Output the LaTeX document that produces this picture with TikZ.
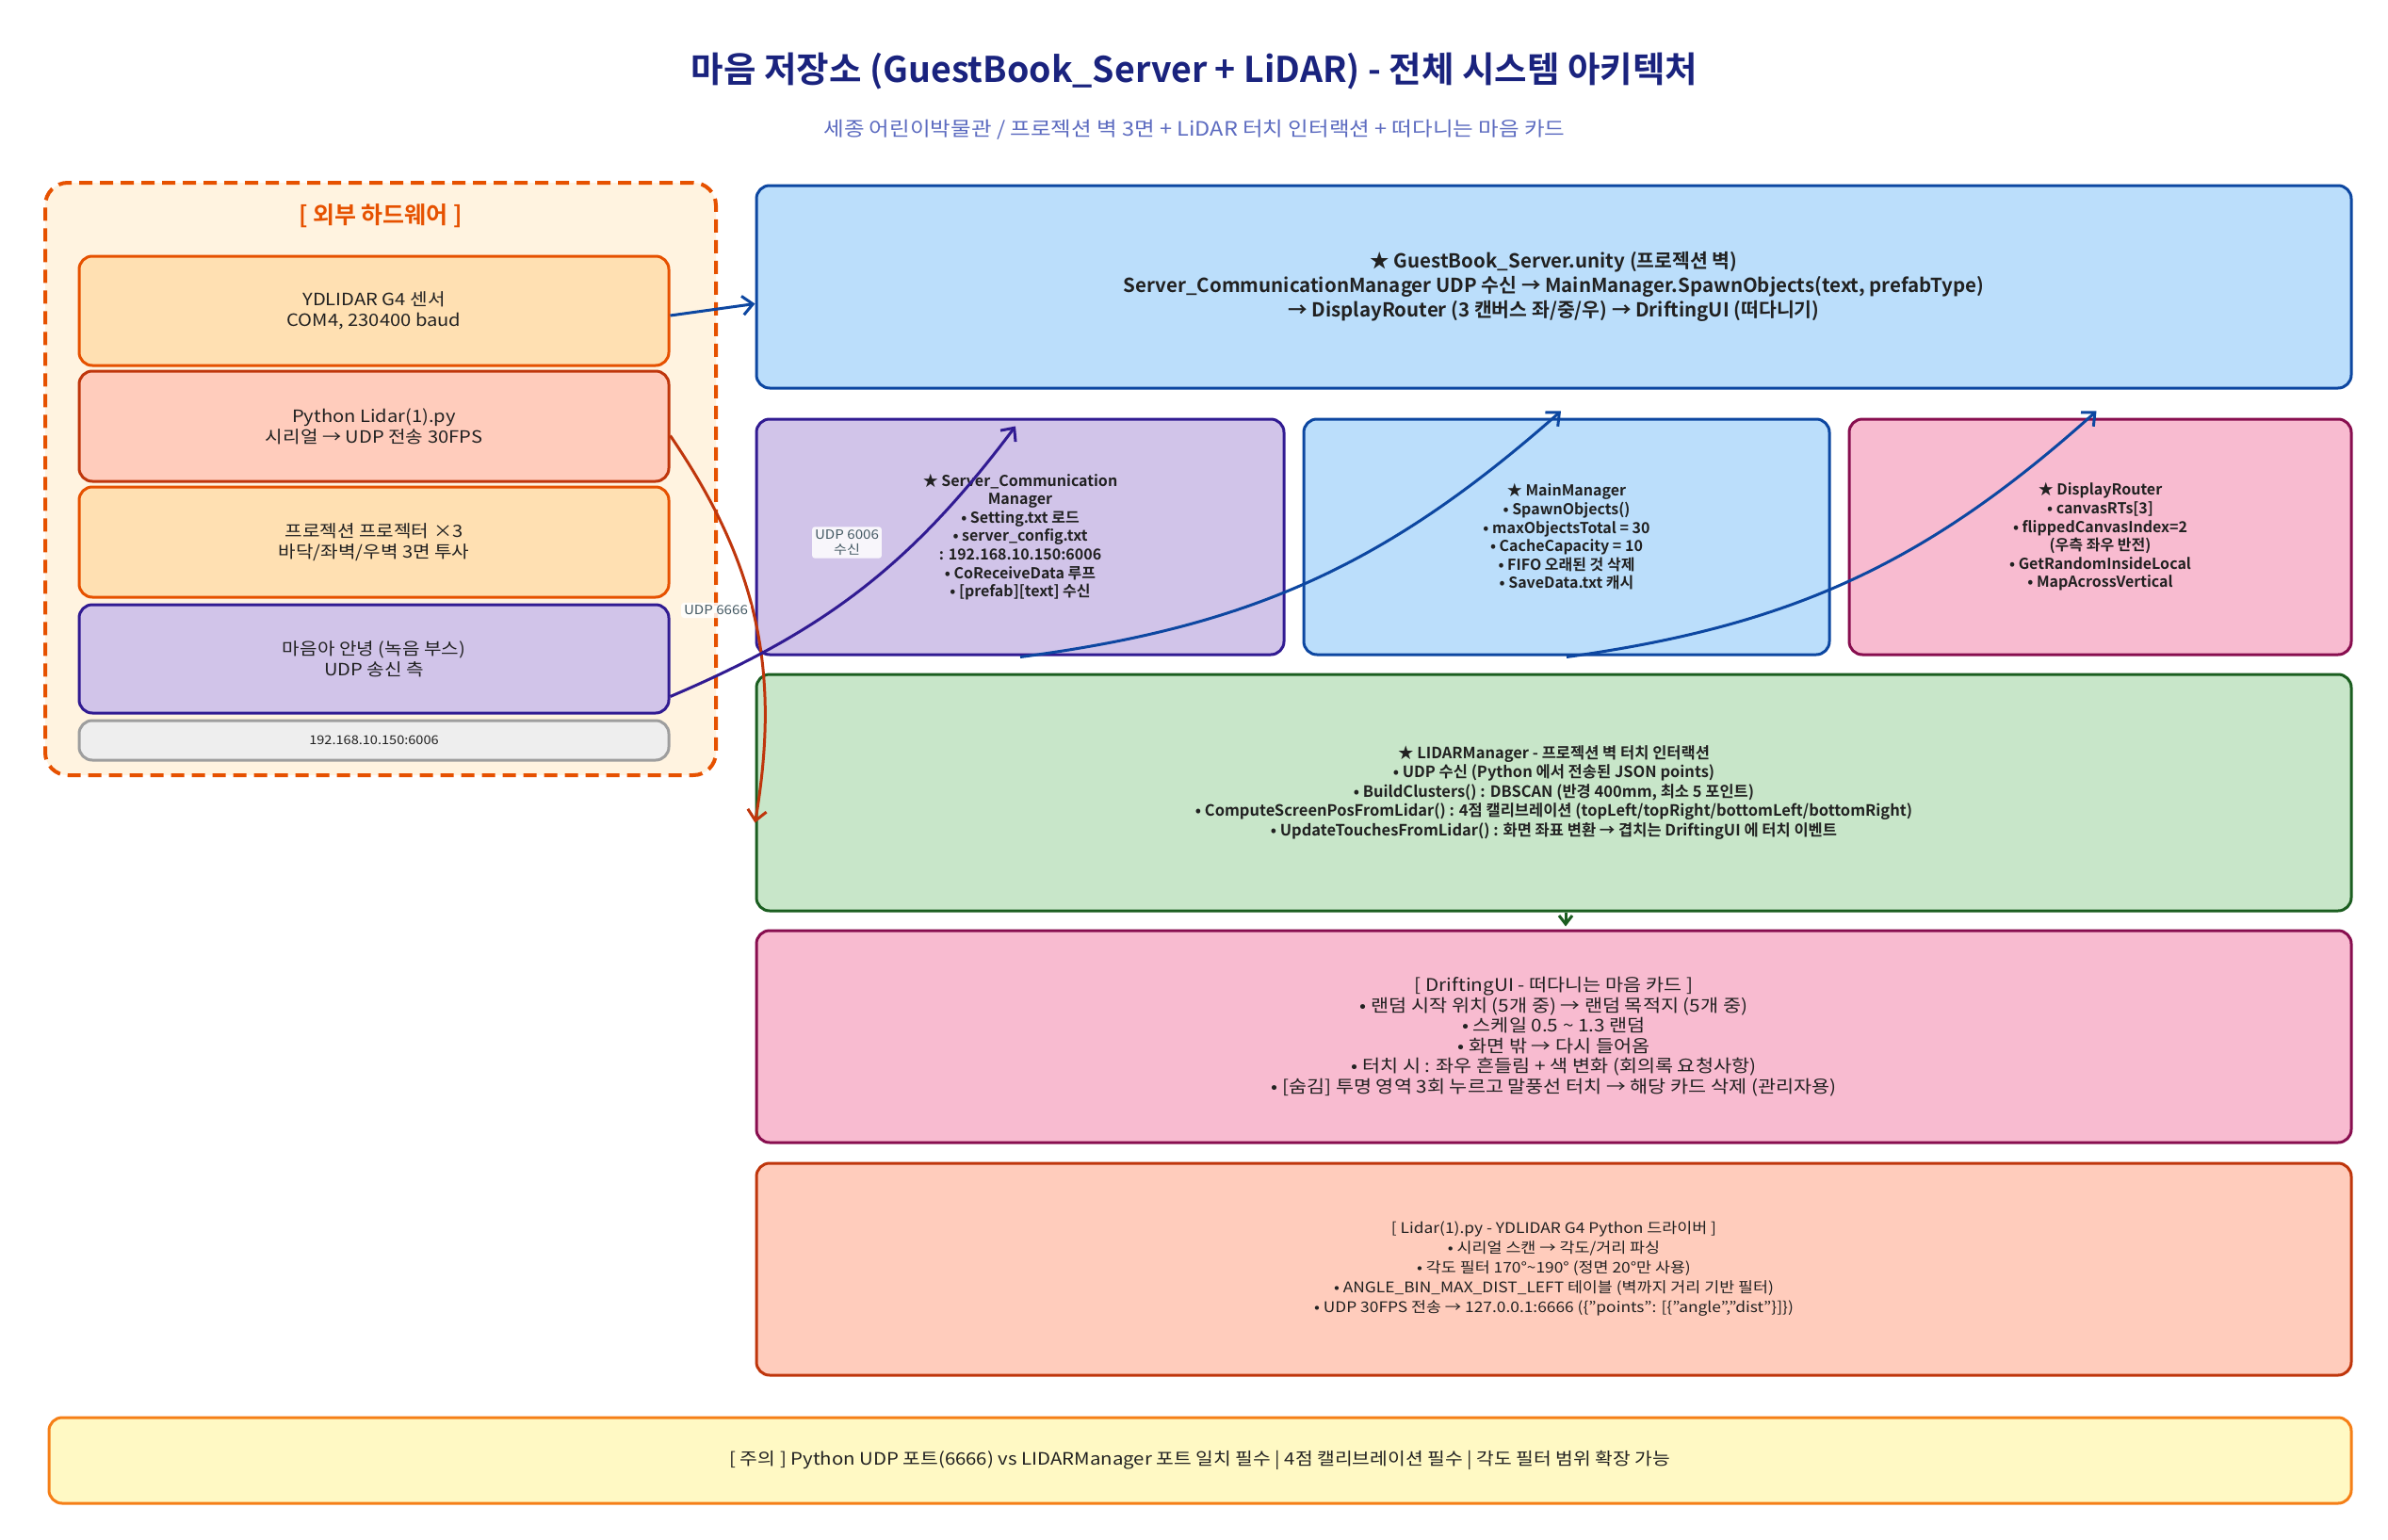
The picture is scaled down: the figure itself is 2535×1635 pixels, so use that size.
\documentclass[tikz,border=0pt]{standalone}
\usepackage{fontspec}
\setmainfont{Noto Sans CJK KR}[FakeStretch=1.12]
\newfontfamily\bfam{Noto Sans CJK KR Bold}
\usetikzlibrary{arrows.meta,calc}
\definecolor{txt}{HTML}{212121}
\definecolor{ttl}{HTML}{1A237E}
\definecolor{sub}{HTML}{5C6BC0}
\definecolor{orB}{HTML}{E65100}\definecolor{orF}{HTML}{FFE0B2}
\definecolor{doB}{HTML}{BF360C}\definecolor{doF}{HTML}{FFCCBC}
\definecolor{puB}{HTML}{311B92}\definecolor{puF}{HTML}{D1C4E9}
\definecolor{grB}{HTML}{9E9E9E}\definecolor{grF}{HTML}{EEEEEE}
\definecolor{blB}{HTML}{0D47A1}\definecolor{blF}{HTML}{BBDEFB}
\definecolor{piB}{HTML}{880E4F}\definecolor{piF}{HTML}{F8BBD0}
\definecolor{gnB}{HTML}{1B5E20}\definecolor{gnF}{HTML}{C8E6C9}
\definecolor{yeB}{HTML}{F57F17}\definecolor{yeF}{HTML}{FFF9C4}
\definecolor{hwF}{HTML}{FFF3E0}
\definecolor{lbl}{HTML}{455A64}
\tikzset{
  box/.style={draw, rounded corners=14pt, line width=3pt, align=center, inner sep=0pt, text=txt},
  sz/.style 2 args={minimum width=#1pt, minimum height=#2pt},
  conn/.style={line width=3pt, -{Straight Barb[length=11pt,width=20pt]}},
  lab/.style={fill=white, fill opacity=0.85, text opacity=1, text=lbl, rounded corners=3pt, inner sep=3pt, align=center, font=\fontsize{13.5}{16.5}\selectfont},
  hwtext/.style={font=\fontsize{18}{22}\selectfont},
  smallb/.style={font=\fontsize{16}{19.6}\selectfont\bfam},
}
\begin{document}
\begin{tikzpicture}[x=1pt,y=-1pt]
\useasboundingbox (0,0) rectangle (2535,1635);
\fill[white] (0,0) rectangle (2535,1635);

% title
\node[text=ttl, font=\fontsize{37.5}{42}\selectfont\bfam] (title) at (1268,76) {마음 저장소 (GuestBook\_Server + LiDAR) - 전체 시스템 아키텍처};
\node[text=sub, font=\fontsize{21}{25}\selectfont] (subtitle) at (1268,138) {세종 어린이박물관 / 프로젝션 벽 3면 + LiDAR 터치 인터랙션 + 떠다니는 마음 카드};

% hardware group
\node[draw=orB, fill=hwF, dash pattern=on 14pt off 8pt, line width=4pt, rounded corners=24pt, sz={712}{629}] (hw) at (404,508.5) {};
\node[text=orB, font=\fontsize{25}{29}\selectfont\bfam] (hwtitle) at (404,229) {[ 외부 하드웨어 ]};

\node[box, draw=orB, fill=orF, sz={626}{116}, hwtext] (ydl) at (397,330) {YDLIDAR G4 센서\\COM4, 230400 baud};
\node[box, draw=doB, fill=doF, sz={626}{117}, hwtext] (py) at (397,452.5) {Python Lidar(1).py\\시리얼 → UDP 전송 30FPS};
\node[box, draw=orB, fill=orF, sz={626}{117}, hwtext] (proj) at (397,575.5) {프로젝션 프로젝터 ×3\\바닥/좌벽/우벽 3면 투사};
\node[box, draw=puB, fill=puF, sz={626}{115}, hwtext] (hello) at (397,699.5) {마음아 안녕 (녹음 부스)\\UDP 송신 측};
\node[box, draw=grB, fill=grF, sz={626}{42}, font=\fontsize{13}{16}\selectfont] (ip) at (397,786) {192.168.10.150:6006};

% right column
\node[box, draw=blB, fill=blF, sz={1693}{215}, font=\fontsize{20.5}{26}\selectfont\bfam] (gb) at (1649.5,304.5) {★ GuestBook\_Server.unity (프로젝션 벽)\\Server\_CommunicationManager UDP 수신 → MainManager.SpawnObjects(text, prefabType)\\→ DisplayRouter (3 캔버스 좌/중/우) → DriftingUI (떠다니기)};

\node[box, draw=puB, fill=puF, sz={560}{250}, smallb] (sc) at (1083,570) {★ Server\_Communication\\Manager\\• Setting.txt 로드\\• server\_config.txt\\: 192.168.10.150:6006\\• CoReceiveData 루프\\• [prefab][text] 수신};
\node[box, draw=blB, fill=blF, sz={558}{250}, smallb] (mm) at (1663,570) {★ MainManager\\• SpawnObjects()\\• maxObjectsTotal = 30\\• CacheCapacity = 10\\• FIFO 오래된 것 삭제\\• SaveData.txt 캐시};
\node[box, draw=piB, fill=piF, sz={533}{250}, smallb] (dr) at (2229.5,570) {★ DisplayRouter\\• canvasRTs[3]\\• flippedCanvasIndex=2\\(우측 좌우 반전)\\• GetRandomInsideLocal\\• MapAcrossVertical};

\node[box, draw=gnB, fill=gnF, sz={1693}{251}, font=\fontsize{16.5}{20.5}\selectfont\bfam] (lid) at (1649.5,841.5) {★ LIDARManager - 프로젝션 벽 터치 인터랙션\\• UDP 수신 (Python 에서 전송된 JSON points)\\• BuildClusters() : DBSCAN (반경 400mm, 최소 5 포인트)\\• ComputeScreenPosFromLidar() : 4점 캘리브레이션 (topLeft/topRight/bottomLeft/bottomRight)\\• UpdateTouchesFromLidar() : 화면 좌표 변환 → 겹치는 DriftingUI 에 터치 이벤트};

\node[box, draw=piB, fill=piF, sz={1693}{225}, font=\fontsize{18.5}{21.5}\selectfont] (drift) at (1649.5,1100.5) {[ DriftingUI - 떠다니는 마음 카드 ]\\• 랜덤 시작 위치 (5개 중) → 랜덤 목적지 (5개 중)\\• 스케일 0.5 \textasciitilde{} 1.3 랜덤\\• 화면 밖 → 다시 들어옴\\• 터치 시 : 좌우 흔들림 + 색 변화 (회의록 요청사항)\\• [숨김] 투명 영역 3회 누르고 말풍선 터치 → 해당 카드 삭제 (관리자용)};

\node[box, draw=doB, fill=doF, sz={1693}{225}, font=\fontsize{15.5}{21}\selectfont] (lpy) at (1649.5,1347.5) {[ Lidar(1).py - YDLIDAR G4 Python 드라이버 ]\\• 시리얼 스캔 → 각도/거리 파싱\\• 각도 필터 170°\textasciitilde{}190° (정면 20°만 사용)\\• ANGLE\_BIN\_MAX\_DIST\_LEFT 테이블 (벽까지 거리 기반 필터)\\• UDP 30FPS 전송 → 127.0.0.1:6666 (\{"points": [\{"angle","dist"\}]\})};

\node[box, draw=yeB, fill=yeF, sz={2444}{91}, font=\fontsize{18.2}{22}\selectfont] (note) at (1274,1550.5) {[ 주의 ] Python UDP 포트(6666) vs LIDARManager 포트 일치 필수 | 4점 캘리브레이션 필수 | 각도 필터 범위 확장 가능};

% connectors
\draw[conn, draw=blB] ([yshift=-5pt]ydl.east) -- ([yshift=-18pt]gb.west);
\draw[conn, draw=doB] ([yshift=-10pt]py.east) to[bend left=22] ([yshift=-32pt]lid.west);
\draw[conn, draw=puB] ([yshift=-40pt]hello.east) to[bend right=15] ([xshift=-5pt,yshift=-9pt]sc.north);
\draw[conn, draw=blB] ([yshift=-1pt]sc.south) to[bend right=17] ([xshift=-6pt,yshift=7pt]mm.north);
\draw[conn, draw=blB] ([yshift=-1pt]mm.south) to[bend right=17] ([xshift=-4pt,yshift=7pt]dr.north);
\draw[conn, draw=gnB, -{Straight Barb[length=9pt,width=14pt]}] ([xshift=12.5pt]lid.south) -- ([xshift=12.5pt,yshift=3pt]drift.north);

\node[lab] (l6666) at (760,648) {UDP 6666};
\node[lab] (l6006) at (899,576) {UDP 6006\\수신};
\end{tikzpicture}
\end{document}
